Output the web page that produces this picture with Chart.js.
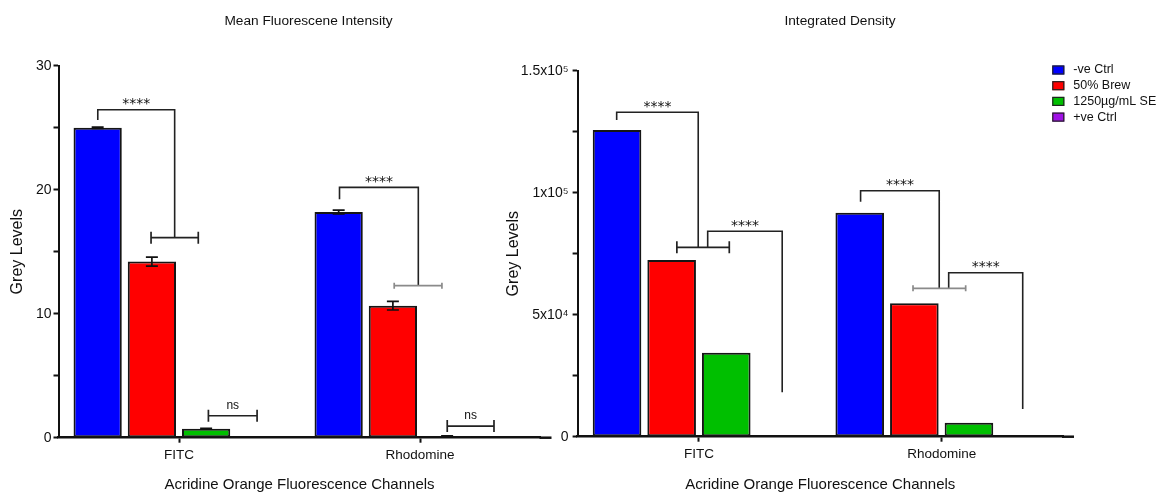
<!DOCTYPE html>
<html>
<head>
<meta charset="utf-8">
<script src="https://cdn.jsdelivr.net/npm/chart.js@4.4.1/dist/chart.umd.min.js"></script>
<style>
  html, body { margin: 0; padding: 0; background: #fff; }
  #wrap { position: relative; width: 1161px; height: 496px; overflow: hidden; background: #fff; }
  canvas { position: absolute; top: 0; }
  #mfi { left: 0; }
  #intden { left: 490px; }
</style>
</head>
<body>
<div id="wrap">
  <canvas id="mfi" width="560" height="496"></canvas>
  <canvas id="intden" width="671" height="496"></canvas>
</div>
<script>
// Acridine orange channels and treatment groups
const channels = ['FITC', 'Rhodomine'];
const groups = ['-ve Ctrl', '50% Brew', '1250µg/mL SE', '+ve Ctrl'];
const groupColors = ['#0000ff', '#ff0000', '#00bf00', '#a010e6'];

// Mean fluorescence intensity (grey levels): means and SEM
const mfiNegCtrl = [25.0, 18.2];
const mfiBrew = [14.2, 10.65];
const mfiSE = [0.73, 0.12];
const mfiPosCtrl = [0, 0];
const mfiNegCtrlErr = [0.05, 0.15];
const mfiBrewErr = [0.37, 0.35];
const mfiSEErr = [0.03, 0.03];
const mfiPosCtrlErr = [0, 0];

// Integrated density (grey levels)
const idNegCtrl = [125700, 91800];
const idBrew = [72400, 54700];
const idSE = [34400, 5700];
const idPosCtrl = [0, 0];

// Labelled y ticks
const mfiTickValues = [0, 10, 20, 30];
const mfiTickLabels = ['0', '10', '20', '30'];
const idTickValues = [0, 50000, 100000, 150000];
const idTickLabels = ['0', '5x10⁴', '1x10⁵', '1.5x10⁵'];

// Significance marks in data space: x is channel index plus a fraction of a channel
const mfiBrackets = [
  { text: '****', x1: -0.337, x2: -0.018, top: 26.45, y1: 25.62, y2: 16.13 },
  { text: '****', x1: 0.666, x2: 0.993, top: 20.19, y1: 19.23, y2: 12.26 }
];
const mfiRanges = [
  { x1: -0.116, x2: 0.080, y: 16.13, tone: 'dark' },
  { x1: 0.893, x2: 1.091, y: 12.26, tone: 'light' },
  { text: 'ns', x1: 0.122, x2: 0.324, y: 1.77, tone: 'dark' },
  { text: 'ns', x1: 1.113, x2: 1.307, y: 0.94, tone: 'dark' }
];
const idBrackets = [
  { text: '****', x1: -0.339, x2: -0.003, top: 132950, y1: 129800, y2: 77620 },
  { text: '****', x1: 0.036, x2: 0.343, top: 84180, y1: 77620, y2: 18200 },
  { text: '****', x1: 0.666, x2: 0.990, top: 100820, y1: 96310, y2: 60820 },
  { text: '****', x1: 1.029, x2: 1.334, top: 67210, y1: 60820, y2: 11350 }
];
const idRanges = [
  { x1: -0.091, x2: 0.125, y: 77620, tone: 'dark' },
  { x1: 0.882, x2: 1.099, y: 60820, tone: 'light' }
];

const FONT = '"Liberation Sans", Arial, sans-serif';
const INK = '#111';
Chart.defaults.font.family = FONT;
Chart.defaults.color = INK;

// Error bars, brackets and significance labels
const sigPlugin = {
  id: 'sig',
  afterDatasetsDraw(chart, args, opts) {
    const ctx = chart.ctx;
    const xs = chart.scales.x, ys = chart.scales.y;
    const x0 = xs.getPixelForValue(0);
    const unit = xs.getPixelForValue(1) - x0;
    const X = v => x0 + v * unit;
    const Y = v => ys.getPixelForValue(v);
    ctx.save();
    ctx.lineCap = 'butt';

    chart.data.datasets.forEach((ds, i) => {
      const meta = chart.getDatasetMeta(i);
      (ds.errors || []).forEach((e, j) => {
        if (!e) return;
        const x = meta.data[j].x;
        const v = ds.data[j];
        const yHi = Y(v + e), yLo = Y(v - e);
        ctx.strokeStyle = INK;
        ctx.lineWidth = 1.7;
        ctx.beginPath();
        ctx.moveTo(x, yHi); ctx.lineTo(x, yLo);
        ctx.moveTo(x - 6, yHi); ctx.lineTo(x + 6, yHi);
        ctx.moveTo(x - 6, yLo); ctx.lineTo(x + 6, yLo);
        ctx.stroke();
      });
    });

    (opts.brackets || []).forEach(b => {
      const xa = X(b.x1), xb = X(b.x2), yt = Y(b.top);
      ctx.strokeStyle = '#222';
      ctx.lineWidth = 1.6;
      ctx.beginPath();
      ctx.moveTo(xa, Y(b.y1));
      ctx.lineTo(xa, yt);
      ctx.lineTo(xb, yt);
      ctx.lineTo(xb, Y(b.y2));
      ctx.stroke();
      ctx.fillStyle = INK;
      ctx.font = '14px "DejaVu Sans", sans-serif';
      ctx.textAlign = 'center';
      ctx.textBaseline = 'alphabetic';
      ctx.fillText(b.text, (xa + xb) / 2, yt - 1.5);
    });

    (opts.ranges || []).forEach(r => {
      const xa = X(r.x1), xb = X(r.x2), y = Y(r.y);
      const light = r.tone === 'light';
      const cap = light ? 3 : 6;
      ctx.strokeStyle = light ? '#8a8a8a' : '#222';
      ctx.lineWidth = 1.7;
      ctx.beginPath();
      ctx.moveTo(xa, y); ctx.lineTo(xb, y);
      ctx.moveTo(xa, y - cap); ctx.lineTo(xa, y + cap);
      ctx.moveTo(xb, y - cap); ctx.lineTo(xb, y + cap);
      ctx.stroke();
      if (r.text) {
        ctx.fillStyle = INK;
        ctx.font = '12px ' + FONT;
        ctx.textAlign = 'center';
        ctx.textBaseline = 'alphabetic';
        ctx.fillText(r.text, (xa + xb) / 2, y - 7);
      }
    });
    ctx.restore();
  }
};

// Panel heading and the tail of the x axis past the last group
const framePlugin = {
  id: 'frame',
  afterDraw(chart, args, opts) {
    const { ctx, chartArea } = chart;
    ctx.save();
    ctx.strokeStyle = INK;
    ctx.lineWidth = 2.5;
    ctx.beginPath();
    ctx.moveTo(chartArea.right - 1, chartArea.bottom);
    ctx.lineTo(chartArea.right + opts.tail, chartArea.bottom);
    ctx.stroke();
    ctx.fillStyle = INK;
    ctx.font = '13.7px ' + FONT;
    ctx.textAlign = 'center';
    ctx.textBaseline = 'middle';
    ctx.fillText(opts.title, opts.titleX, opts.titleY);
    ctx.restore();
  }
};

// Group key in the top-right corner
const keyPlugin = {
  id: 'groupKey',
  afterDraw(chart, args, opts) {
    if (!opts.show) return;
    const { ctx, chartArea } = chart;
    const bx = chartArea.right + opts.dx;
    let y = chartArea.top + opts.dy;
    ctx.save();
    ctx.font = '12.5px ' + FONT;
    ctx.textAlign = 'left';
    ctx.textBaseline = 'middle';
    chart.data.datasets.forEach(ds => {
      ctx.fillStyle = ds.backgroundColor;
      ctx.fillRect(bx, y - 4.5, 12, 9);
      ctx.strokeStyle = '#222';
      ctx.lineWidth = 1.2;
      ctx.strokeRect(bx + 0.5, y - 4, 11, 8);
      ctx.fillStyle = INK;
      ctx.fillText(ds.label, bx + 21, y);
      y += opts.rowGap;
    });
    ctx.restore();
  }
};

function makeDatasets(series, errors) {
  return series.map((data, i) => ({
    label: groups[i],
    data: data,
    errors: errors ? errors[i] : null,
    backgroundColor: groupColors[i],
    borderColor: '#151515',
    borderWidth: 2,
    borderSkipped: false,
    categoryPercentage: 0.9,
    barPercentage: 0.89
  }));
}

function makeOptions(cfg) {
  return {
    responsive: false,
    animation: false,
    events: [],
    layout: { padding: { left: 0, right: cfg.padRight, top: cfg.padTop, bottom: 0 } },
    plugins: {
      legend: { display: false },
      tooltip: { enabled: false },
      title: { display: false },
      sig: { brackets: cfg.brackets, ranges: cfg.ranges },
      frame: { tail: 11, title: cfg.title, titleX: cfg.titleX, titleY: 21.7 },
      groupKey: cfg.key
    },
    scales: {
      x: {
        type: 'category',
        offset: true,
        grid: { display: true, drawOnChartArea: false, offset: false, drawTicks: true, tickLength: 5, tickWidth: 2, tickColor: INK },
        border: { display: true, color: INK, width: 2.5 },
        ticks: { font: { size: 13.5 }, color: INK, padding: 4, maxRotation: 0, autoSkip: false },
        title: { display: true, text: 'Acridine Orange Fluorescence Channels', font: { size: 15 }, color: INK, padding: { top: 0, bottom: 2 } },
        afterFit: s => { s.height = cfg.xHeight; }
      },
      y: {
        min: 0,
        max: cfg.max,
        grid: { display: true, drawOnChartArea: false, drawTicks: true, tickLength: 5, tickWidth: 2, tickColor: INK },
        border: { display: true, color: INK, width: 2 },
        ticks: {
          stepSize: cfg.step,
          autoSkip: false,
          font: { size: 14 },
          color: INK,
          padding: cfg.tickPad,
          callback: v => {
            const k = cfg.tickValues.indexOf(v);
            return k >= 0 ? cfg.tickLabels[k] : '';
          }
        },
        title: { display: true, text: 'Grey Levels', font: { size: 16 }, color: INK, padding: { top: cfg.yTitlePad, bottom: 0 } },
        afterFit: s => { s.width = cfg.yWidth; }
      }
    }
  };
}

new Chart(document.getElementById('mfi'), {
  type: 'bar',
  data: {
    labels: channels,
    datasets: makeDatasets(
      [mfiNegCtrl, mfiBrew, mfiSE, mfiPosCtrl],
      [mfiNegCtrlErr, mfiBrewErr, mfiSEErr, mfiPosCtrlErr]
    )
  },
  options: makeOptions({
    padRight: 19.5, padTop: 65.7, xHeight: 58.3, yWidth: 58.5, yTitlePad: 8.4, tickPad: 2,
    max: 30, step: 5, tickValues: mfiTickValues, tickLabels: mfiTickLabels,
    brackets: mfiBrackets, ranges: mfiRanges,
    title: 'Mean Fluorescene Intensity', titleX: 308.5,
    key: { show: false }
  }),
  plugins: [sigPlugin, framePlugin, keyPlugin]
});

new Chart(document.getElementById('intden'), {
  type: 'bar',
  data: {
    labels: channels,
    datasets: makeDatasets([idNegCtrl, idBrew, idSE, idPosCtrl], null)
  },
  options: makeOptions({
    padRight: 98, padTop: 70.7, xHeight: 59.3, yWidth: 87.6, yTitlePad: 13.7, tickPad: 4,
    max: 150000, step: 25000, tickValues: idTickValues, tickLabels: idTickLabels,
    brackets: idBrackets, ranges: idRanges,
    title: 'Integrated Density', titleX: 350,
    key: { show: true, dx: -10.7, dy: -0.7, rowGap: 15.7 }
  }),
  plugins: [sigPlugin, framePlugin, keyPlugin]
});
</script>
</body>
</html>
